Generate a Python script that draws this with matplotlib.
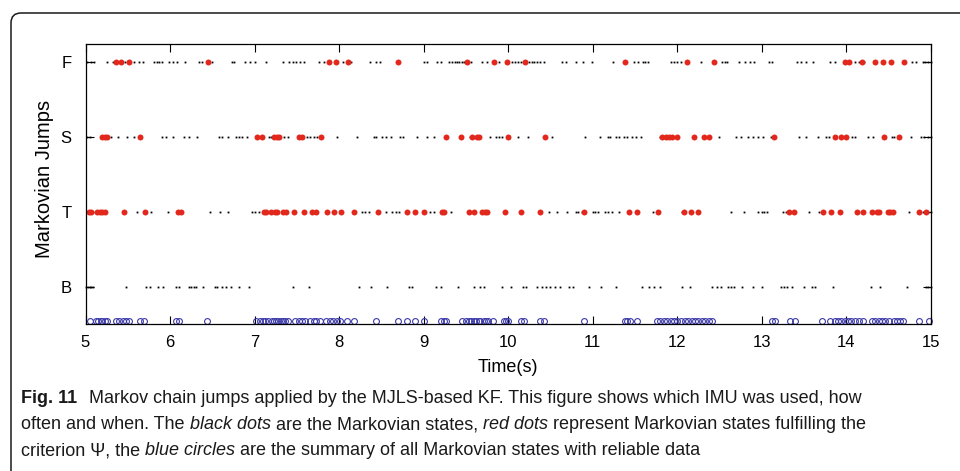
import matplotlib
matplotlib.use("Agg")
import matplotlib.pyplot as plt
from matplotlib.patches import FancyBboxPatch
import numpy as np

plt.rcParams['font.family'] = ['Liberation Sans', 'DejaVu Sans']

# IMU states (y levels) and times of each jump, in seconds
states = ['B', 'T', 'S', 'F']
levels = [1, 2, 3, 4]

f_black = [5.02, 5.06, 5.10, 5.26, 5.32, 5.47, 5.57, 5.63, 5.68, 5.81, 5.84, 5.87, 5.90, 5.99,
           6.04, 6.08, 6.18, 6.34, 6.38, 6.50, 6.73, 6.76, 6.89, 6.95, 7.01, 7.13, 7.33, 7.41,
           7.45, 7.49, 7.54, 7.58, 7.76, 7.82, 8.04, 8.14, 8.36, 8.43, 8.48, 9.00, 9.04, 9.16,
           9.20, 9.30, 9.34, 9.37, 9.39, 9.42, 9.45, 9.48, 9.56, 9.69, 9.75, 9.89, 10.05, 10.08,
           10.11, 10.15, 10.25, 10.28, 10.31, 10.34, 10.37, 10.42, 10.64, 10.68, 10.80, 10.89,
           10.99, 11.24, 11.49, 11.54, 11.59, 11.62, 11.65, 11.92, 11.96, 12.00, 12.04, 12.28,
           12.53, 12.56, 12.59, 12.73, 12.80, 12.86, 12.91, 13.08, 13.12, 13.42, 13.46, 13.52,
           13.60, 13.81, 13.87, 14.10, 14.15, 14.21, 14.78, 14.82, 14.90, 14.93, 14.97, 15.00]
f_red = [5.36, 5.42, 5.52, 6.45, 7.88, 7.96, 8.10, 8.70, 9.51, 9.83, 9.99, 10.20, 11.38,
         12.11, 12.43, 13.98, 14.03, 14.18, 14.34, 14.43, 14.53, 14.68]

s_black = [5.02, 5.05, 5.30, 5.38, 5.49, 5.57, 5.91, 5.95, 6.03, 6.16, 6.22, 6.32, 6.58, 6.62,
           6.68, 6.78, 6.82, 6.85, 6.91, 7.17, 7.19, 7.35, 7.39, 7.62, 7.66, 7.70, 7.74, 7.98,
           8.21, 8.41, 8.44, 8.51, 8.55, 8.61, 8.72, 8.76, 8.92, 9.04, 9.12, 9.55, 9.79, 9.85,
           9.89, 9.93, 10.11, 10.23, 10.52, 10.91, 11.08, 11.18, 11.20, 11.27, 11.31, 11.37,
           11.41, 11.46, 11.51, 11.57, 11.79, 12.49, 12.69, 12.75, 12.83, 12.89, 12.95, 13.01,
           13.11, 13.44, 13.52, 13.66, 13.76, 13.79, 14.07, 14.10, 14.25, 14.31, 14.54, 14.56,
           14.76, 14.88, 14.92, 14.96, 15.00]
s_red = [5.20, 5.23, 5.25, 5.64, 7.03, 7.09, 7.23, 7.26, 7.29, 7.52, 7.56, 7.78, 9.26, 9.44,
         9.57, 9.63, 9.65, 10.00, 10.44, 11.82, 11.86, 11.90, 11.94, 12.00, 12.20, 12.31,
         12.38, 13.14, 13.87, 13.93, 13.99, 14.45, 14.62]

t_black = [5.61, 5.77, 5.97, 6.47, 6.59, 6.68, 6.97, 7.01, 7.05, 8.27, 8.31, 8.35, 8.55, 8.63,
           8.67, 8.71, 9.08, 9.12, 9.32, 10.48, 10.58, 10.70, 10.80, 10.83, 10.87, 11.00,
           11.03, 11.06, 11.14, 11.18, 11.23, 11.31, 11.71, 12.05, 12.63, 12.79, 12.95, 13.00,
           13.03, 13.06, 13.25, 13.28, 13.56, 13.68, 14.74, 14.90, 14.97, 15.00]
t_red = [5.04, 5.07, 5.14, 5.17, 5.20, 5.23, 5.46, 5.70, 6.09, 6.13, 7.11, 7.14, 7.19, 7.24,
         7.27, 7.33, 7.37, 7.47, 7.59, 7.68, 7.73, 7.86, 7.94, 8.02, 8.17, 8.46, 8.80, 8.90,
         9.00, 9.22, 9.24, 9.53, 9.60, 9.69, 9.73, 9.75, 9.96, 10.15, 10.37, 10.90, 11.43,
         11.52, 11.77, 12.08, 12.16, 12.25, 13.32, 13.38, 13.72, 13.82, 13.92, 14.12, 14.20,
         14.30, 14.36, 14.38, 14.49, 14.52, 14.55, 14.86, 14.94]

b_black = [5.01, 5.03, 5.05, 5.07, 5.09, 5.48, 5.72, 5.76, 5.86, 5.92, 6.07, 6.11, 6.22, 6.25,
           6.28, 6.31, 6.39, 6.53, 6.55, 6.61, 6.66, 6.72, 6.82, 6.93, 7.46, 7.64, 8.24, 8.38,
           8.57, 8.83, 8.86, 9.15, 9.20, 9.41, 9.59, 9.67, 9.71, 9.93, 10.03, 10.17, 10.21,
           10.34, 10.40, 10.45, 10.49, 10.55, 10.61, 10.72, 10.76, 10.96, 11.10, 11.28, 11.58,
           11.66, 11.72, 11.80, 12.06, 12.15, 12.41, 12.47, 12.52, 12.60, 12.64, 12.67, 12.77,
           12.90, 13.00, 13.22, 13.26, 13.30, 13.36, 13.50, 13.59, 13.63, 13.84, 14.29, 14.40,
           14.72, 14.94, 14.97, 15.00]

reliable = [5.05, 5.12, 5.15, 5.18, 5.20, 5.23, 5.25, 5.36, 5.40, 5.44, 5.48, 5.52, 5.64, 5.69,
            6.07, 6.11, 6.44, 7.02, 7.06, 7.10, 7.12, 7.16, 7.20, 7.23, 7.25, 7.28, 7.31, 7.33,
            7.36, 7.39, 7.48, 7.52, 7.56, 7.60, 7.66, 7.70, 7.73, 7.77, 7.85, 7.89, 7.93, 7.97,
            8.01, 8.09, 8.18, 8.44, 8.70, 8.80, 8.90, 9.00, 9.21, 9.24, 9.26, 9.45, 9.50, 9.53,
            9.56, 9.59, 9.62, 9.65, 9.67, 9.71, 9.74, 9.76, 9.82, 9.95, 9.97, 10.00, 10.15,
            10.19, 10.37, 10.42, 10.90, 11.38, 11.41, 11.44, 11.52, 11.76, 11.80, 11.84, 11.88,
            11.92, 11.96, 12.00, 12.04, 12.09, 12.13, 12.17, 12.21, 12.25, 12.29, 12.33, 12.37,
            12.41, 13.12, 13.16, 13.33, 13.39, 13.71, 13.81, 13.87, 13.90, 13.94, 13.98, 14.02,
            14.05, 14.10, 14.15, 14.20, 14.30, 14.34, 14.38, 14.42, 14.46, 14.50, 14.56, 14.60,
            14.63, 14.67, 14.86, 14.98]
reliable_level = 0.55

W, H = 960, 471
fig = plt.figure(figsize=(W / 100, H / 100), dpi=100)

# rounded frame around figure + caption
bg = fig.add_axes([0, 0, 1, 1], zorder=0)
bg.set_xlim(0, W)
bg.set_ylim(H, 0)
bg.axis('off')
bg.add_patch(FancyBboxPatch((11, 13), 1000, 520, boxstyle='round,pad=0,rounding_size=10',
                            fill=False, lw=1.1, ec='#1a1a1a'))

ax = fig.add_axes([85.5 / W, 1 - 324.3 / H, 845.5 / W, 280 / H], zorder=1)

rows = [(b_black, [], 1), (t_black, t_red, 2), (s_black, s_red, 3), (f_black, f_red, 4)]
for blk, red, lvl in rows:
    ax.plot(blk, np.full(len(blk), lvl), ls='none', marker='s', ms=1.3, mew=0,
            color='black', clip_on=False)
    if red:
        ax.plot(red, np.full(len(red), lvl), ls='none', marker='o', ms=4.3, mew=0,
                color='#e2281c', clip_on=False)
ax.plot(reliable, np.full(len(reliable), reliable_level), ls='none', marker='o', ms=4.2,
        mfc='none', mec='#3c3aa8', mew=0.8, clip_on=False)

ax.set_xlim(5, 15)
ax.set_ylim(0.5, 4.235)
ax.set_xticks(range(5, 16))
ax.set_yticks(levels)
ax.set_yticklabels(states)
ax.tick_params(direction='in', top=True, right=True, length=6, width=0.8,
               labelsize=12, pad=8)
ax.tick_params(axis='y', pad=10)
for sp in ax.spines.values():
    sp.set_linewidth(0.9)
ax.set_xlabel('Time(s)', fontsize=13, labelpad=6)
ax.set_ylabel('Markovian Jumps', fontsize=14.5)
ax.yaxis.set_label_coords(-0.037, 0.52)

# caption with mixed bold / italic runs
cap_font = 'Liberation Sans'
cap_size = 13
renderer = fig.canvas.get_renderer()


def text_width(s, **kw):
    t = fig.text(0, 0, s, fontsize=cap_size, family=cap_font, **kw)
    w = t.get_window_extent(renderer).width
    t.remove()
    return w


space = text_width('x x') - text_width('xx')

caption = [
    (403, [('Fig. 11', 'bold', 'normal', 0),
           ('Markov chain jumps applied by the MJLS-based KF. This figure shows which IMU was used, how',
            'normal', 'normal', 2.3)]),
    (429, [('often and when. The', 'normal', 'normal', 0),
           ('black dots', 'normal', 'italic', 1),
           ('are the Markovian states,', 'normal', 'normal', 1),
           ('red dots', 'normal', 'italic', 1),
           ('represent Markovian states fulfilling the', 'normal', 'normal', 1)]),
    (455, [('criterion \u03a8, the', 'normal', 'normal', 0),
           ('blue circles', 'normal', 'italic', 1),
           ('are the summary of all Markovian states with reliable data', 'normal', 'normal', 1)]),
]
for y, runs in caption:
    x = 21
    for txt, weight, style, gap in runs:
        x += gap * space
        t = bg.text(x, y, txt, fontsize=cap_size, family=cap_font, fontweight=weight,
                    fontstyle=style, va='baseline', ha='left', color='#1a1a1a')
        x += t.get_window_extent(renderer).width

fig.savefig('out.png', dpi=100)
